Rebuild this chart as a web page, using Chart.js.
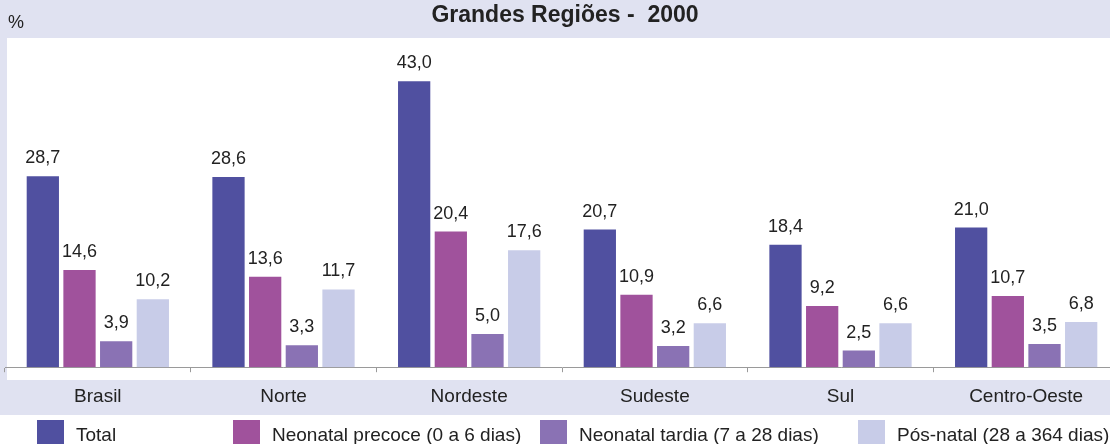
<!DOCTYPE html>
<html>
<head>
<meta charset="utf-8">
<script src="https://cdn.jsdelivr.net/npm/chart.js@4"></script>
<style>
html,body{margin:0;padding:0;overflow:hidden;background:#fff;width:1110px;height:444px;}
#wrap{position:relative;width:1110px;height:444px;overflow:hidden;}
canvas{display:block;}
</style>
</head>
<body>
<div id="wrap"><canvas id="c" width="1120" height="444"></canvas></div>
<script>
const categories = ['Brasil', 'Norte', 'Nordeste', 'Sudeste', 'Sul', 'Centro-Oeste'];
const seriesNames = ['Total', 'Neonatal precoce (0 a 6 dias)', 'Neonatal tardia (7 a 28 dias)', 'Pós-natal (28 a 364 dias)'];
const totalValues = [28.7, 28.6, 43.0, 20.7, 18.4, 21.0];
const precoceValues = [14.6, 13.6, 20.4, 10.9, 9.2, 10.7];
const tardiaValues = [3.9, 3.3, 5.0, 3.2, 2.5, 3.5];
const posNatalValues = [10.2, 11.7, 17.6, 6.6, 6.6, 6.8];
const seriesColors = ['#5050a0', '#a0529c', '#8a72b4', '#c8cce8'];
const titleText = 'Grandes Regiões -  2000';
const unitText = '%';

const LAV = '#e0e2f1';
const FONT = '"Liberation Sans", Arial, sans-serif';

const bgPlugin = {
  id: 'bg',
  beforeDraw(chart) {
    const ctx = chart.ctx;
    ctx.save();
    ctx.fillStyle = LAV;
    ctx.fillRect(0, 0, chart.width, chart.height);
    ctx.fillStyle = '#ffffff';
    ctx.fillRect(7, 38, chart.width, 380 - 38);
    ctx.fillRect(0, 415, chart.width, chart.height - 415);
    ctx.fillStyle = '#222';
    ctx.textBaseline = 'alphabetic';
    ctx.font = 'bold 23px ' + FONT;
    ctx.textAlign = 'center';
    ctx.fillText(titleText, 565, 22);
    ctx.font = '18px ' + FONT;
    ctx.textAlign = 'left';
    ctx.fillText(unitText, 8, 28);
    ctx.restore();
  }
};

const labelPlugin = {
  id: 'vals',
  afterDatasetsDraw(chart) {
    const ctx = chart.ctx;
    ctx.save();
    ctx.fillStyle = '#222';
    ctx.font = '18px ' + FONT;
    ctx.textAlign = 'center';
    ctx.textBaseline = 'alphabetic';
    chart.data.datasets.forEach((ds, i) => {
      chart.getDatasetMeta(i).data.forEach((bar, j) => {
        ctx.fillText(ds.data[j].toFixed(1).replace('.', ','), bar.x, bar.y - 13);
      });
    });
    ctx.restore();
  }
};

const legendPlugin = {
  id: 'leg',
  afterDraw(chart) {
    const ctx = chart.ctx;
    const xs = [37, 233, 540, 858];
    ctx.save();
    ctx.font = '19px ' + FONT;
    ctx.textAlign = 'left';
    ctx.textBaseline = 'alphabetic';
    chart.data.datasets.forEach((ds, i) => {
      ctx.fillStyle = ds.backgroundColor;
      ctx.fillRect(xs[i], 420, 27, 26);
      ctx.fillStyle = '#222';
      ctx.fillText(ds.label, xs[i] + 39, 441);
    });
    ctx.restore();
  }
};

const allValues = [totalValues, precoceValues, tardiaValues, posNatalValues];

new Chart(document.getElementById('c'), {
  type: 'bar',
  data: {
    labels: categories,
    datasets: allValues.map((vals, i) => ({
      label: seriesNames[i],
      data: vals,
      backgroundColor: seriesColors[i],
      borderWidth: 0
    }))
  },
  options: {
    responsive: false,
    animation: false,
    devicePixelRatio: 1,
    datasets: { bar: { categoryPercentage: 0.79, barPercentage: 0.88 } },
    layout: { padding: { top: 38, left: 5, right: 1, bottom: 23 } },
    plugins: { legend: { display: false }, title: { display: false }, tooltip: { enabled: false } },
    scales: {
      y: { display: false, min: 0, max: 49.5 },
      x: {
        grid: { offset: true, drawOnChartArea: false, drawTicks: true, tickLength: 5, color: '#9a9a9a' },
        border: { display: true, color: '#9a9a9a' },
        ticks: { color: '#222', font: { size: 19, family: FONT }, padding: 13, maxRotation: 0 }
      }
    }
  },
  plugins: [bgPlugin, labelPlugin, legendPlugin]
});
</script>
</body>
</html>
